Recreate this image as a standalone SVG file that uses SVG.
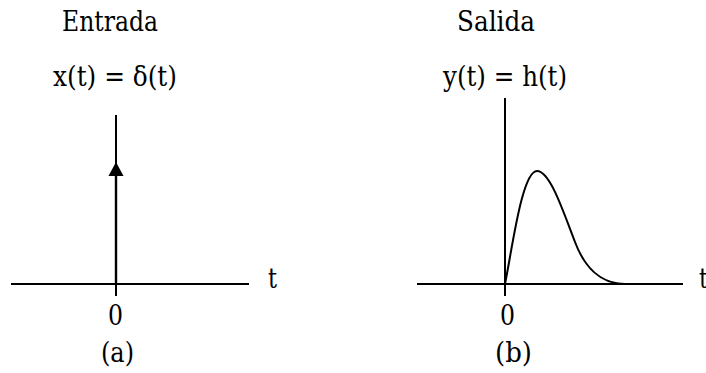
<svg xmlns="http://www.w3.org/2000/svg" width="706" height="373" viewBox="0 0 706 373">
<style>
text{font-family:'DejaVu Serif','Liberation Serif',serif;font-size:28px;fill:#000}
.ax{stroke:#000;stroke-width:2;fill:none}
</style>
<rect width="706" height="373" fill="#fff"/>
<g id="panel-a">
<text x="62" y="31" textLength="96" lengthAdjust="spacingAndGlyphs">Entrada</text>
<text x="53" y="86" textLength="124" lengthAdjust="spacingAndGlyphs">x(t) = δ(t)</text>
<line class="ax" x1="11" y1="284" x2="249" y2="284"/>
<line class="ax" x1="116" y1="115" x2="116" y2="296"/>
<text x="268" y="288" textLength="9" lengthAdjust="spacingAndGlyphs">t</text>
<text x="108" y="325" textLength="15" lengthAdjust="spacingAndGlyphs">0</text>
<text x="101" y="362" textLength="33" lengthAdjust="spacingAndGlyphs">(a)</text>
</g>
<g id="connectors">
<path d="M116,284 L116,175" stroke="#000" stroke-width="2.4"/>
<path d="M108.5,176 L116,162 L123.5,176 Z" fill="#000"/>
</g>
<g id="panel-b">
<text x="457" y="31" textLength="78" lengthAdjust="spacingAndGlyphs">Salida</text>
<text x="443" y="86" textLength="124" lengthAdjust="spacingAndGlyphs">y(t) = h(t)</text>
<line class="ax" x1="417" y1="284" x2="683" y2="284"/>
<line class="ax" x1="505" y1="98" x2="505" y2="296"/>
<path class="ax" d="M505,284 C512,250 522,171 537,171 C550,171 563,211 575,242 C584,266 600,284 625,284"/>
<text x="699" y="288" textLength="9" lengthAdjust="spacingAndGlyphs">t</text>
<text x="500" y="325" textLength="15" lengthAdjust="spacingAndGlyphs">0</text>
<text x="495" y="362" textLength="37" lengthAdjust="spacingAndGlyphs">(b)</text>
</g>
</svg>
